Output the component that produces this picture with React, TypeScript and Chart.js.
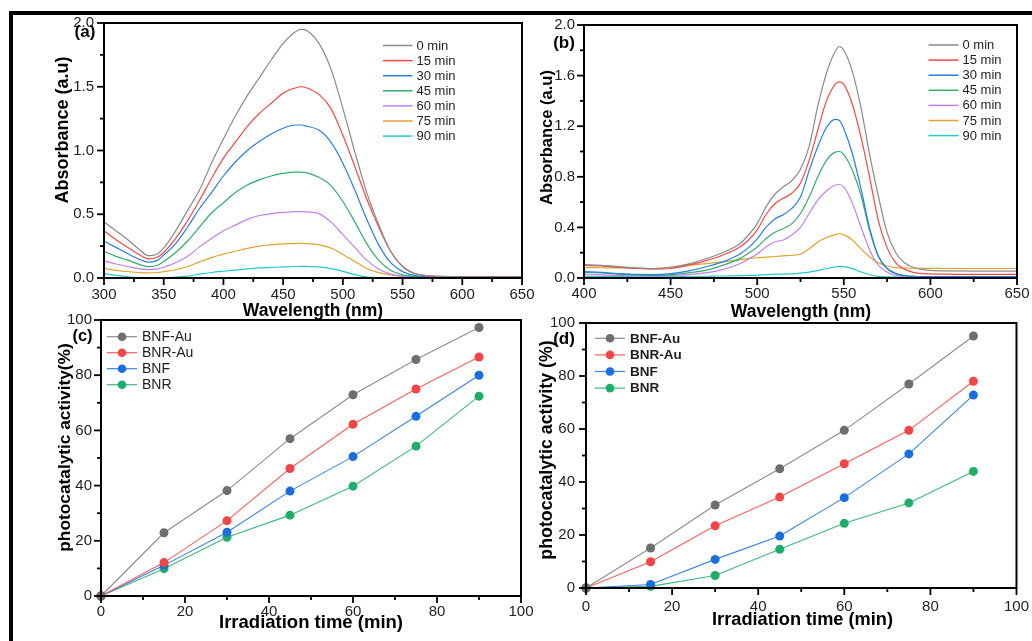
import React, { useEffect, useRef } from 'react';
import { Chart, registerables } from 'chart.js';

Chart.register(...registerables);

const FONT = "'Liberation Sans', Arial, Helvetica, sans-serif";

// ---------- Panel (a): UV-vis spectra ----------
const wavelengthA = [300, 310, 320, 330, 337, 345, 350, 360, 370, 380, 390, 400, 410, 420, 430, 440, 450, 460, 465, 470, 480, 490, 500, 510, 520, 530, 540, 550, 560, 570, 580, 600, 625, 650];
const absA_0 = [0.44, 0.37, 0.30, 0.22, 0.175, 0.19, 0.235, 0.37, 0.53, 0.69, 0.90, 1.09, 1.27, 1.43, 1.57, 1.71, 1.84, 1.93, 1.95, 1.94, 1.84, 1.64, 1.33, 0.99, 0.67, 0.42, 0.21, 0.09, 0.035, 0.018, 0.012, 0.01, 0.01, 0.01];
const absA_15 = [0.37, 0.30, 0.24, 0.18, 0.15, 0.165, 0.20, 0.31, 0.45, 0.61, 0.78, 0.94, 1.065, 1.19, 1.29, 1.37, 1.45, 1.49, 1.50, 1.49, 1.44, 1.33, 1.12, 0.875, 0.62, 0.40, 0.21, 0.09, 0.035, 0.018, 0.012, 0.01, 0.01, 0.01];
const absA_30 = [0.29, 0.24, 0.19, 0.145, 0.125, 0.14, 0.18, 0.27, 0.40, 0.545, 0.67, 0.80, 0.91, 1.00, 1.07, 1.13, 1.175, 1.20, 1.20, 1.19, 1.16, 1.065, 0.90, 0.69, 0.46, 0.26, 0.12, 0.05, 0.02, 0.01, 0.008, 0.008, 0.008, 0.008];
const absA_45 = [0.21, 0.17, 0.14, 0.105, 0.09, 0.10, 0.13, 0.20, 0.29, 0.40, 0.51, 0.59, 0.67, 0.73, 0.77, 0.80, 0.82, 0.83, 0.83, 0.825, 0.79, 0.725, 0.60, 0.44, 0.27, 0.14, 0.06, 0.025, 0.012, 0.008, 0.006, 0.006, 0.006, 0.006];
const absA_60 = [0.134, 0.11, 0.09, 0.072, 0.066, 0.072, 0.085, 0.12, 0.17, 0.244, 0.31, 0.37, 0.415, 0.46, 0.49, 0.505, 0.514, 0.52, 0.52, 0.518, 0.505, 0.44, 0.34, 0.24, 0.14, 0.07, 0.03, 0.015, 0.008, 0.005, 0.005, 0.005, 0.005, 0.005];
const absA_75 = [0.075, 0.06, 0.05, 0.042, 0.04, 0.043, 0.05, 0.065, 0.09, 0.126, 0.16, 0.187, 0.21, 0.233, 0.25, 0.26, 0.267, 0.27, 0.272, 0.27, 0.26, 0.235, 0.185, 0.13, 0.075, 0.042, 0.025, 0.014, 0.008, 0.005, 0.004, 0.004, 0.004, 0.004];
const absA_90 = [0.035, 0.02, 0.01, 0.003, 0.0, 0.001, 0.003, 0.008, 0.015, 0.03, 0.043, 0.053, 0.062, 0.072, 0.079, 0.083, 0.087, 0.09, 0.091, 0.09, 0.088, 0.074, 0.052, 0.026, 0.008, 0.003, 0.002, 0.001, 0.001, 0.001, 0.001, 0.001, 0.001, 0.001];

// ---------- Panel (b): UV-vis spectra ----------
const wavelengthB = [400, 410, 420, 430, 440, 450, 460, 470, 480, 490, 495, 500, 505, 510, 515, 520, 525, 530, 535, 540, 545, 547.5, 550, 555, 560, 565, 570, 575, 580, 585, 590, 600, 610, 625, 650];
const absB_0 = [0.105, 0.10, 0.09, 0.08, 0.075, 0.085, 0.11, 0.15, 0.20, 0.27, 0.34, 0.43, 0.56, 0.66, 0.72, 0.77, 0.86, 1.04, 1.36, 1.62, 1.79, 1.83, 1.80, 1.63, 1.34, 0.97, 0.645, 0.36, 0.20, 0.12, 0.085, 0.06, 0.056, 0.055, 0.055];
const absB_15 = [0.10, 0.095, 0.085, 0.075, 0.07, 0.075, 0.10, 0.135, 0.18, 0.245, 0.30, 0.38, 0.50, 0.585, 0.63, 0.67, 0.75, 0.93, 1.17, 1.40, 1.53, 1.55, 1.53, 1.37, 1.11, 0.79, 0.45, 0.24, 0.12, 0.07, 0.045, 0.032, 0.03, 0.028, 0.028];
const absB_30 = [0.05, 0.045, 0.035, 0.028, 0.027, 0.034, 0.055, 0.087, 0.127, 0.19, 0.24, 0.31, 0.40, 0.465, 0.50, 0.55, 0.64, 0.85, 1.04, 1.19, 1.254, 1.245, 1.18, 0.98, 0.70, 0.39, 0.17, 0.075, 0.035, 0.02, 0.014, 0.012, 0.012, 0.012, 0.012];
const absB_45 = [0.045, 0.04, 0.03, 0.022, 0.02, 0.025, 0.04, 0.06, 0.10, 0.153, 0.195, 0.245, 0.31, 0.36, 0.39, 0.43, 0.51, 0.64, 0.80, 0.93, 0.995, 1.00, 0.975, 0.85, 0.65, 0.37, 0.17, 0.075, 0.035, 0.02, 0.013, 0.01, 0.01, 0.01, 0.01];
const absB_60 = [0.03, 0.025, 0.02, 0.016, 0.016, 0.02, 0.026, 0.04, 0.066, 0.113, 0.15, 0.19, 0.245, 0.285, 0.30, 0.34, 0.40, 0.51, 0.615, 0.69, 0.733, 0.739, 0.72, 0.59, 0.40, 0.22, 0.10, 0.047, 0.02, 0.012, 0.008, 0.007, 0.007, 0.007, 0.007];
const absB_75 = [0.082, 0.081, 0.08, 0.077, 0.075, 0.085, 0.10, 0.113, 0.127, 0.145, 0.153, 0.16, 0.165, 0.17, 0.175, 0.18, 0.19, 0.23, 0.285, 0.32, 0.343, 0.35, 0.343, 0.30, 0.23, 0.166, 0.12, 0.095, 0.082, 0.078, 0.077, 0.076, 0.075, 0.075, 0.075];
const absB_90 = [0.013, 0.012, 0.011, 0.01, 0.01, 0.01, 0.012, 0.014, 0.016, 0.019, 0.02, 0.022, 0.026, 0.03, 0.031, 0.032, 0.038, 0.047, 0.06, 0.074, 0.088, 0.092, 0.09, 0.074, 0.047, 0.026, 0.013, 0.009, 0.008, 0.008, 0.008, 0.008, 0.008, 0.008, 0.008];

const timeLabels = ['0 min', '15 min', '30 min', '45 min', '60 min', '75 min', '90 min'];
const timeColors = ['#8a8a8a', '#f44848', '#2a7de1', '#2fae6e', '#c27fec', '#e2a22e', '#22caca'];

// ---------- Panels (c) and (d): photocatalytic activity ----------
const timeMin = [0, 15, 30, 45, 60, 75, 90];
const actC_BNFAu = [0, 22.9, 38.2, 57.0, 72.9, 85.7, 97.3];
const actC_BNRAu = [0, 12.1, 27.3, 46.2, 62.2, 75.0, 86.6];
const actC_BNF = [0, 11.1, 23.1, 38.0, 50.5, 65.1, 80.0];
const actC_BNR = [0, 9.9, 21.3, 29.3, 39.8, 54.3, 72.4];
const actD_BNFAu = [0, 15.1, 31.3, 45.0, 59.5, 77.0, 95.1];
const actD_BNRAu = [0, 9.9, 23.5, 34.3, 46.9, 59.5, 78.0];
const actD_BNF = [0, 1.3, 10.8, 19.6, 34.1, 50.6, 72.8];
const actD_BNR = [0, 0.6, 4.7, 14.6, 24.4, 32.1, 44.0];

const sampleLabels = ['BNF-Au', 'BNR-Au', 'BNF', 'BNR'];
const sampleMarkerColors = ['#6e6e6e', '#f24646', '#1a6fdf', '#1fae6a'];
const sampleLineColors = ['#8c8c8c', '#f56060', '#3a82e4', '#3cb87c'];

// ---------- layout (page coordinates) ----------
type Geom = { left: number; top: number; width: number; height: number; pad: { top: number; right: number; bottom: number; left: number }; yW: number; xH: number; xPad: number; yPad: number };
type TextSpec = { text: string; x: number; y: number; size: number };
type LegendSpec = { x0: number; x1: number; tx: number; y0: number; dy: number; font: string; marker: boolean };
type Decor = { xMajor: number; xMinor: number; yMajor: number; yMinor: number; xTitle: TextSpec; yTitle: TextSpec; label: TextSpec; legend: LegendSpec; items: { text: string; line: string; mark: string }[] };

const geomA: Geom = { left: 0, top: 0, width: 545, height: 322, pad: { top: 23, right: 23, bottom: 0, left: 0 }, yW: 104, xH: 44, xPad: 1, yPad: 3 };
const geomB: Geom = { left: 520, top: 0, width: 512, height: 322, pad: { top: 25, right: 15, bottom: 0, left: 0 }, yW: 64, xH: 44, xPad: 0, yPad: 2 };
const geomC: Geom = { left: 0, top: 300, width: 545, height: 341, pad: { top: 20, right: 24, bottom: 0, left: 0 }, yW: 101, xH: 45, xPad: 0, yPad: 2 };
const geomD: Geom = { left: 520, top: 300, width: 512, height: 341, pad: { top: 23, right: 14, bottom: 0, left: 0 }, yW: 66, xH: 53, xPad: 3, yPad: 4 };

function makeDecor(d: Decor, g: Geom) {
  return {
    id: 'decor',
    afterDraw(chart: any) {
      const ctx: CanvasRenderingContext2D = chart.ctx;
      const a = chart.chartArea;
      const xs = chart.scales.x;
      const ys = chart.scales.y;
      ctx.save();
      ctx.strokeStyle = '#000000';
      ctx.lineWidth = 1.8;
      ctx.lineCap = 'butt';
      const nx = Math.round((xs.max - xs.min) / d.xMinor);
      for (let i = 0; i <= nx; i++) {
        const v = xs.min + i * d.xMinor;
        const r = v / d.xMajor;
        const maj = Math.abs(r - Math.round(r)) < 1e-6;
        const p = xs.getPixelForValue(v);
        ctx.beginPath();
        ctx.moveTo(p, a.bottom);
        ctx.lineTo(p, a.bottom + (maj ? 7 : 4));
        ctx.stroke();
      }
      const ny = Math.round((ys.max - ys.min) / d.yMinor);
      for (let i = 0; i <= ny; i++) {
        const v = ys.min + i * d.yMinor;
        const r = v / d.yMajor;
        const maj = Math.abs(r - Math.round(r)) < 1e-6;
        const p = ys.getPixelForValue(v);
        ctx.beginPath();
        ctx.moveTo(a.left, p);
        ctx.lineTo(a.left - (maj ? 7 : 4), p);
        ctx.stroke();
      }
      ctx.lineWidth = 2;
      ctx.strokeRect(a.left, a.top, a.right - a.left, a.bottom - a.top);

      // titles
      ctx.fillStyle = '#000';
      ctx.textAlign = 'center';
      ctx.textBaseline = 'middle';
      ctx.font = `bold ${d.xTitle.size}px ${FONT}`;
      ctx.fillText(d.xTitle.text, d.xTitle.x - g.left, d.xTitle.y - g.top);
      ctx.save();
      ctx.translate(d.yTitle.x - g.left, d.yTitle.y - g.top);
      ctx.rotate(-Math.PI / 2);
      ctx.font = `bold ${d.yTitle.size}px ${FONT}`;
      ctx.fillText(d.yTitle.text, 0, 0);
      ctx.restore();
      ctx.font = `bold ${d.label.size}px ${FONT}`;
      ctx.fillText(d.label.text, d.label.x - g.left, d.label.y - g.top);

      // legend
      const L = d.legend;
      ctx.textAlign = 'left';
      ctx.font = L.font;
      d.items.forEach((it, i) => {
        const y = L.y0 + i * L.dy - g.top;
        ctx.strokeStyle = it.line;
        ctx.lineWidth = L.marker ? 1.2 : 1.5;
        ctx.beginPath();
        ctx.moveTo(L.x0 - g.left, y);
        ctx.lineTo(L.x1 - g.left, y);
        ctx.stroke();
        if (L.marker) {
          ctx.fillStyle = it.mark;
          ctx.beginPath();
          ctx.arc((L.x0 + L.x1) / 2 - g.left, y, 4.3, 0, Math.PI * 2);
          ctx.fill();
        }
        ctx.fillStyle = '#1e1e1e';
        ctx.fillText(it.text, L.tx - g.left, y + 0.5);
      });
      ctx.restore();
    },
  };
}

function scaleOpts(min: number, max: number, step: number, pad: number, fit: (s: any) => void, fmt?: (v: number) => string) {
  return {
    type: 'linear',
    min,
    max,
    ticks: {
      stepSize: step,
      autoSkip: false,
      maxRotation: 0,
      padding: pad,
      color: '#1e1e1e',
      font: { family: FONT, size: 15 },
      callback: fmt ? (v: any) => fmt(Number(v)) : (v: any) => String(Math.round(Number(v))),
    },
    grid: { display: true, drawOnChartArea: false, drawTicks: true, tickLength: 7, color: 'rgba(0,0,0,0)', tickColor: 'rgba(0,0,0,0)' },
    border: { display: false },
    afterFit: fit,
  };
}

function baseOptions(g: Geom, x: any, y: any) {
  return {
    animation: false,
    responsive: false,
    maintainAspectRatio: false,
    events: [],
    layout: { padding: g.pad, autoPadding: false },
    plugins: { legend: { display: false }, tooltip: { enabled: false } },
    scales: { x, y },
  };
}

function spectraConfig(g: Geom, wl: number[], series: number[][], xMin: number, xMax: number, xStep: number, yStep: number, decor: Decor) {
  return {
    type: 'line',
    data: {
      datasets: series.map((s, i) => ({
        label: timeLabels[i],
        data: wl.map((w, j) => ({ x: w, y: s[j] })),
        borderColor: timeColors[i],
        borderWidth: 1.2,
        pointRadius: 0,
        fill: false,
        cubicInterpolationMode: 'monotone',
        clip: false,
      })),
    },
    options: baseOptions(
      g,
      scaleOpts(xMin, xMax, xStep, g.xPad, (s: any) => { s.height = g.xH; }),
      scaleOpts(0, 2, yStep, g.yPad, (s: any) => { s.width = g.yW; }, (v) => v.toFixed(1)),
    ),
    plugins: [makeDecor(decor, g)],
  };
}

function activityConfig(g: Geom, series: number[][], decor: Decor) {
  return {
    type: 'line',
    data: {
      datasets: series.map((s, i) => ({
        label: sampleLabels[i],
        data: timeMin.map((t, j) => ({ x: t, y: s[j] })),
        borderColor: sampleLineColors[i],
        borderWidth: 1.1,
        pointRadius: 4.5,
        pointBackgroundColor: sampleMarkerColors[i],
        pointBorderWidth: 0,
        fill: false,
        tension: 0,
        clip: false,
      })),
    },
    options: baseOptions(
      g,
      scaleOpts(0, 100, 20, g.xPad, (s: any) => { s.height = g.xH; }),
      scaleOpts(0, 100, 20, g.yPad, (s: any) => { s.width = g.yW; }),
    ),
    plugins: [makeDecor(decor, g)],
  };
}

const spectraItems = timeLabels.map((t, i) => ({ text: t, line: timeColors[i], mark: timeColors[i] }));
const sampleItems = sampleLabels.map((t, i) => ({ text: t, line: sampleLineColors[i], mark: sampleMarkerColors[i] }));

const decorA: Decor = {
  xMajor: 50, xMinor: 25, yMajor: 0.5, yMinor: 0.25,
  xTitle: { text: 'Wavelength (nm)', x: 313, y: 311.5, size: 17.5 },
  yTitle: { text: 'Absorbance (a.u)', x: 63, y: 130, size: 18 },
  label: { text: '(a)', x: 85, y: 32, size: 17 },
  legend: { x0: 383, x1: 412.5, tx: 416.5, y0: 45.5, dy: 15.1, font: `13px ${FONT}`, marker: false },
  items: spectraItems,
};
const decorB: Decor = {
  xMajor: 50, xMinor: 25, yMajor: 0.4, yMinor: 0.2,
  xTitle: { text: 'Wavelength (nm)', x: 801, y: 312.5, size: 17.5 },
  yTitle: { text: 'Absorbance (a.u)', x: 547, y: 137.5, size: 16.5 },
  label: { text: '(b)', x: 564, y: 43, size: 17 },
  legend: { x0: 928.5, x1: 958.5, tx: 962.5, y0: 45, dy: 15.1, font: `13px ${FONT}`, marker: false },
  items: spectraItems,
};
const decorC: Decor = {
  xMajor: 20, xMinor: 10, yMajor: 20, yMinor: 10,
  xTitle: { text: 'Irradiation time (min)', x: 311, y: 623, size: 18.5 },
  yTitle: { text: 'photocatalytic activity(%)', x: 65, y: 447.5, size: 17.3 },
  label: { text: '(c)', x: 82.5, y: 336, size: 16.5 },
  legend: { x0: 107, x1: 137, tx: 142, y0: 336.7, dy: 16, font: `14px ${FONT}`, marker: true },
  items: sampleItems,
};
const decorD: Decor = {
  xMajor: 20, xMinor: 10, yMajor: 20, yMinor: 10,
  xTitle: { text: 'Irradiation time (min)', x: 802.5, y: 620, size: 18.2 },
  yTitle: { text: 'photocatalytic activity (%)', x: 547, y: 450, size: 17.8 },
  label: { text: '(d)', x: 564, y: 339.5, size: 17 },
  legend: { x0: 595, x1: 625, tx: 630, y0: 338.3, dy: 16.6, font: `bold 13.5px ${FONT}`, marker: true },
  items: sampleItems,
};

export default function App() {
  const refA = useRef<HTMLCanvasElement>(null);
  const refB = useRef<HTMLCanvasElement>(null);
  const refC = useRef<HTMLCanvasElement>(null);
  const refD = useRef<HTMLCanvasElement>(null);

  useEffect(() => {
    const charts: Chart[] = [];
    if (refA.current) charts.push(new Chart(refA.current, spectraConfig(geomA, wavelengthA, [absA_0, absA_15, absA_30, absA_45, absA_60, absA_75, absA_90], 300, 650, 50, 0.5, decorA) as any));
    if (refB.current) charts.push(new Chart(refB.current, spectraConfig(geomB, wavelengthB, [absB_0, absB_15, absB_30, absB_45, absB_60, absB_75, absB_90], 400, 650, 50, 0.4, decorB) as any));
    if (refC.current) charts.push(new Chart(refC.current, activityConfig(geomC, [actC_BNFAu, actC_BNRAu, actC_BNF, actC_BNR], decorC) as any));
    if (refD.current) charts.push(new Chart(refD.current, activityConfig(geomD, [actD_BNFAu, actD_BNRAu, actD_BNF, actD_BNR], decorD) as any));
    return () => charts.forEach((c) => c.destroy());
  }, []);

  const cv = (g: Geom, ref: React.RefObject<HTMLCanvasElement>) => (
    <canvas
      ref={ref}
      width={g.width}
      height={g.height}
      style={{ position: 'absolute', left: g.left, top: g.top, width: g.width, height: g.height }}
    />
  );

  return (
    <div style={{ position: 'absolute', left: 0, top: 0, width: 1032, height: 641, overflow: 'hidden', background: '#fff' }}>
      <div style={{ position: 'absolute', left: 9, top: 11, width: 1040, height: 650, borderTop: '4px solid #000', borderLeft: '4px solid #000' }} />
      {cv(geomA, refA)}
      {cv(geomB, refB)}
      {cv(geomC, refC)}
      {cv(geomD, refD)}
    </div>
  );
}
